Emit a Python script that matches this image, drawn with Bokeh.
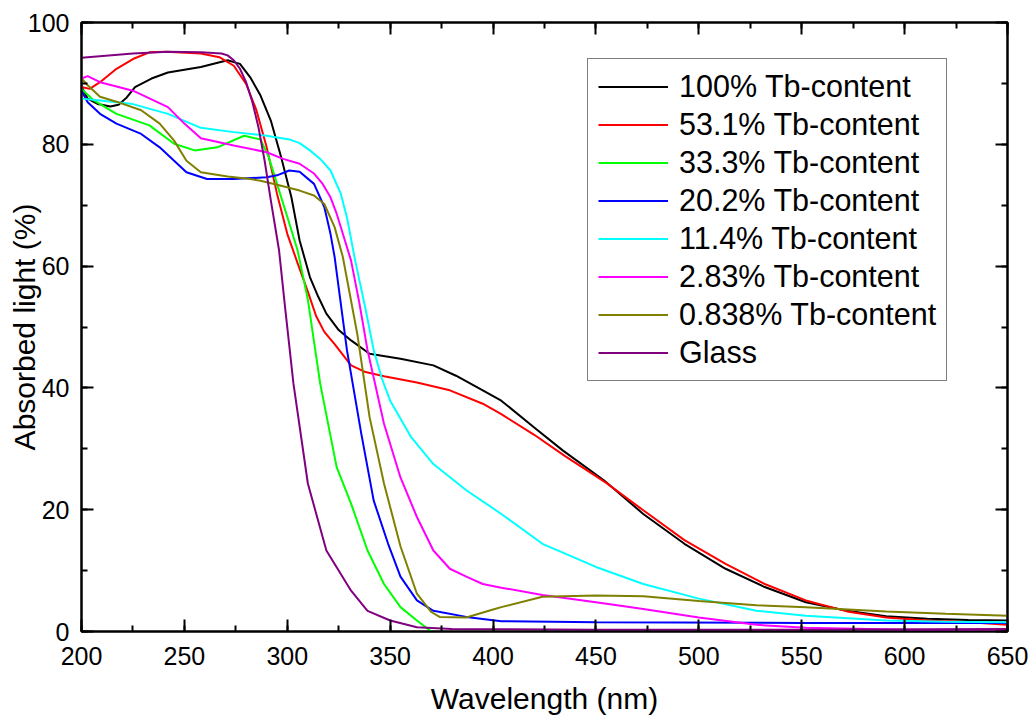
from bokeh.plotting import figure
from bokeh.models import LinearAxis, SingleIntervalTicker, Range1d, CustomLabelingPolicy
from bokeh.embed import file_html
from bokeh.resources import INLINE

# Absorption spectra (wavelength in nm, absorbed light in %)
wl_100 = [200, 203, 208, 214, 218, 222, 226, 234, 242, 258, 271, 277, 282, 287, 292, 297, 302, 306,
          311, 315, 319, 325, 331, 340, 355, 371, 382, 395, 404, 420, 434, 454, 473, 493, 513, 532,
          552, 572, 591, 611, 631, 650]
ab_100 = [89.5, 87.5, 86.6, 86.2, 86.5, 87.7, 89.4, 90.8, 91.8, 92.7, 93.8, 93.2, 91.0, 88.0, 83.9,
          77.9, 71.3, 64.2, 58.2, 55.0, 52.2, 49.5, 47.8, 45.6, 44.8, 43.7, 42.0, 39.6, 37.9, 33.5,
          29.7, 24.8, 19.3, 14.4, 10.3, 7.3, 4.8, 3.4, 2.5, 2.1, 1.9, 1.8]

wl_531 = [200, 204, 209, 217, 225, 233, 241, 258, 267, 274, 280, 285, 290, 295, 300, 305, 310, 314,
          318, 323, 331, 338, 347, 363, 379, 395, 404, 420, 435, 455, 473, 493, 513, 532, 552, 572,
          591, 611, 631, 650]
ab_531 = [89.4, 89.1, 90.2, 92.4, 94.0, 95.1, 95.2, 94.9, 94.3, 92.9, 89.9, 85.6, 79.5, 71.9, 65.3,
          60.5, 55.8, 51.8, 49.2, 47.2, 43.7, 42.6, 41.9, 40.9, 39.6, 37.4, 35.7, 32.3, 28.8, 24.4,
          19.9, 15.0, 11.1, 7.8, 5.1, 3.3, 2.3, 1.8, 1.5, 1.1]

wl_333 = [200, 206, 217, 233, 245, 255, 266, 279, 287, 291, 295, 300, 305, 310, 316, 324, 331, 339,
          347, 355, 363, 370, 373]
ab_333 = [89.1, 87.2, 85.0, 83.1, 80.1, 79.0, 79.5, 81.4, 80.8, 77.9, 73.5, 68.1, 62.6, 54.5, 40.7,
          27.0, 21.0, 13.3, 7.8, 4.0, 1.8, 0.0, -0.5]

wl_202 = [200, 203, 209, 217, 229, 238, 245, 251, 261, 274, 290, 295, 301, 306, 313, 318, 321, 323,
          329, 336, 342, 349, 355, 363, 371, 387, 404, 450, 550, 650]
ab_202 = [88.8, 86.9, 85.0, 83.4, 81.7, 79.5, 77.3, 75.4, 74.3, 74.3, 74.6, 74.9, 75.7, 75.5, 73.5,
          69.7, 65.3, 61.5, 46.2, 32.4, 21.5, 14.4, 9.0, 5.1, 3.4, 2.4, 1.7, 1.5, 1.4, 1.4]

wl_114 = [200, 209, 225, 242, 258, 274, 290, 301, 306, 311, 316, 321, 326, 329, 333, 338, 342, 346,
          350, 360, 371, 387, 404, 424, 450, 473, 500, 528, 552, 591, 620, 650]
ab_114 = [87.5, 87.2, 86.6, 85.0, 82.7, 82.0, 81.4, 80.8, 80.2, 79.0, 77.6, 75.7, 71.9, 68.0, 60.9,
          53.0, 46.2, 41.5, 37.9, 32.0, 27.5, 23.2, 19.3, 14.4, 10.6, 7.8, 5.4, 3.4, 2.6, 1.8, 1.6,
          1.5]

wl_283 = [200, 203, 209, 225, 242, 250, 258, 274, 290, 298, 306, 313, 317, 321, 324, 327, 331, 335,
          339, 347, 355, 363, 371, 379, 387, 395, 404, 424, 450, 473, 500, 528, 552, 600, 650]
ab_283 = [90.8, 91.2, 90.2, 88.8, 86.1, 83.4, 81.0, 79.8, 78.7, 77.6, 76.8, 75.2, 73.6, 71.3, 68.6,
          65.3, 60.9, 54.0, 46.2, 34.1, 25.3, 18.8, 13.3, 10.3, 9.0, 7.8, 7.2, 6.0, 4.8, 3.7, 2.3,
          1.1, 0.6, 0.3, 0.3]

wl_0838 = [200, 203, 209, 217, 229, 238, 245, 251, 258, 271, 282, 287, 297, 306, 313, 318, 323, 327,
           334, 340, 347, 355, 363, 370, 374, 387, 400, 404, 424, 450, 473, 500, 528, 552, 591, 620,
           650]
ab_0838 = [90.8, 89.7, 87.8, 87.0, 85.6, 83.4, 80.6, 77.3, 75.4, 74.7, 74.3, 74.0, 73.2, 72.4, 71.6,
           70.2, 66.4, 61.5, 48.9, 35.2, 24.3, 14.0, 6.2, 3.2, 2.4, 2.3, 3.6, 4.0, 5.7, 5.9, 5.8, 5.0,
           4.3, 4.0, 3.3, 2.9, 2.6]

wl_glass = [200, 225, 242, 258, 268, 271, 274, 277, 280, 283, 286, 289, 292, 296, 299, 303, 310, 319,
            331, 339, 350, 363, 380, 450, 550, 650]
ab_glass = [94.2, 94.9, 95.2, 95.1, 94.9, 94.6, 93.8, 92.4, 90.2, 87.0, 82.8, 77.3, 70.8, 62.6, 53.0,
            40.7, 24.3, 13.3, 6.7, 3.4, 1.8, 0.7, 0.4, 0.3, 0.3, 0.4]

series = [
    ("100% Tb-content", wl_100, ab_100, "#000000"),
    ("53.1% Tb-content", wl_531, ab_531, "#FF0000"),
    ("33.3% Tb-content", wl_333, ab_333, "#00FF00"),
    ("20.2% Tb-content", wl_202, ab_202, "#0000FF"),
    ("11.4% Tb-content", wl_114, ab_114, "#00FFFF"),
    ("2.83% Tb-content", wl_283, ab_283, "#FF00FF"),
    ("0.838% Tb-content", wl_0838, ab_0838, "#808000"),
    ("Glass", wl_glass, ab_glass, "#800080"),
]

FONT = "Liberation Sans"

p = figure(width=1035, height=719, output_backend="svg", toolbar_location=None,
           x_range=Range1d(200, 650), y_range=Range1d(0, 100),
           min_border_left=81, min_border_right=28, min_border_top=22, min_border_bottom=88)
p.background_fill_color = "white"
p.border_fill_color = "white"
p.xgrid.visible = False
p.ygrid.visible = False
p.outline_line_color = "black"
p.outline_line_width = 2

for name, xs, ys, color in series:
    p.line(xs, ys, line_color=color, line_width=2, legend_label=name)


def style_axis(ax, labels=True):
    ax.axis_line_color = "black"
    ax.axis_line_width = 2
    ax.major_tick_line_color = "black"
    ax.major_tick_line_width = 2
    ax.minor_tick_line_color = "black"
    ax.minor_tick_line_width = 2
    ax.major_tick_in = 12
    ax.major_tick_out = 0
    ax.minor_tick_in = 6
    ax.minor_tick_out = 0
    if labels:
        ax.major_label_text_font = FONT
        ax.major_label_text_font_size = "25px"
        ax.major_label_text_color = "black"
        ax.major_label_standoff = 12
        ax.axis_label_text_font = FONT
        ax.axis_label_text_font_size = "30px"
        ax.axis_label_text_font_style = "normal"
        ax.axis_label_text_color = "black"
    else:
        # tick marks only on the mirrored frame sides
        ax.major_label_policy = CustomLabelingPolicy(code="return new Set()")
        ax.major_label_text_font_size = "0px"
        ax.major_label_standoff = 0


p.xaxis[0].ticker = SingleIntervalTicker(interval=50, num_minor_ticks=2)
p.yaxis[0].ticker = SingleIntervalTicker(interval=20, num_minor_ticks=2)
p.xaxis[0].axis_label = "Wavelength (nm)"
p.yaxis[0].axis_label = "Absorbed light (%)"
style_axis(p.xaxis[0])
style_axis(p.yaxis[0])
p.xaxis[0].major_label_standoff = 15
p.xaxis[0].axis_label_standoff = 14
p.yaxis[0].axis_label_standoff = -16

top = LinearAxis(ticker=SingleIntervalTicker(interval=50, num_minor_ticks=2))
right = LinearAxis(ticker=SingleIntervalTicker(interval=20, num_minor_ticks=2))
style_axis(top, labels=False)
style_axis(right, labels=False)
p.add_layout(top, "above")
p.add_layout(right, "right")

lg = p.legend[0]
lg.location = (506, 250)
lg.label_text_font = FONT
lg.label_text_font_size = "30.5px"
lg.label_text_color = "black"
lg.glyph_width = 70
lg.glyph_height = 33
lg.label_height = 33
lg.label_standoff = 11
lg.spacing = 3
lg.padding = 10
lg.margin = 0
lg.border_line_color = "black"
lg.border_line_width = 1
lg.background_fill_color = "white"
lg.background_fill_alpha = 1.0

open("out.html", "w").write(file_html(p, INLINE))
